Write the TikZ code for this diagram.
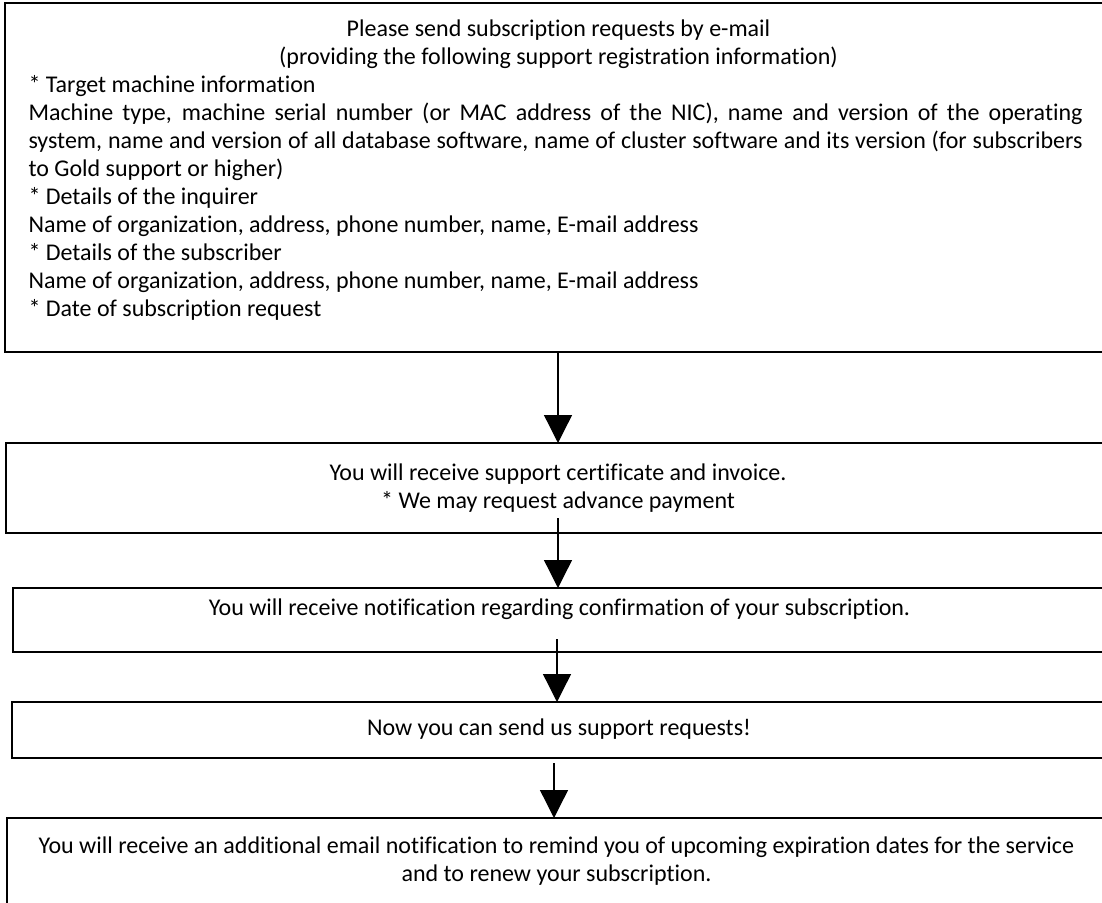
\documentclass[tikz,border=0pt]{standalone}
\usepackage{fontspec}
\setmainfont{Carlito}[Ligatures={NoCommon}]
\usetikzlibrary{arrows.meta}
\begin{document}
\begin{tikzpicture}[x=1pt,y=-1pt,
  box/.style={draw, line width=2.6pt, rectangle, anchor=north west, outer sep=0pt, inner sep=0pt,
    font=\fontsize{24}{28}\selectfont},
  arr/.style={line width=1.3pt, -{Triangle[width=28pt,length=28pt]}}]
\useasboundingbox (0,0) rectangle (1102,902);
\clip (0,0) rectangle (1102,902);
\fill[white] (0,0) rectangle (1102,902);

\node[box, minimum width=1101pt, minimum height=349pt] (b1) at (5,3) {\parbox{1054pt}{%
{\centering\hspace*{6pt}Please send subscription requests by e-mail\\
\hspace*{6pt}(providing the following support registration information)\par}
* Target machine information\par
Machine type, machine serial number (or MAC address of the NIC), name and version of the operating\linebreak
system, name and version of all database software, name of cluster software and its version (for subscribers\linebreak
to Gold support or higher)\par
* Details of the inquirer\par
Name of organization, address, phone number, name, E-mail address\par
* Details of the subscriber\par
Name of organization, address, phone number, name, E-mail address\par
* Date of subscription request\par\vspace{14pt}}};

\node[box, minimum width=1104pt, minimum height=90pt, align=center] (b2) at (6,443)
  {You will receive support certificate and invoice.\\* We may request advance payment};

\node[box, minimum width=1093pt, minimum height=64pt, text height=10pt, text depth=20pt] (b3) at (13,588)
  {You will receive notification regarding confirmation of your subscription.};

\node[box, minimum width=1094pt, minimum height=56pt, text height=15pt, text depth=5pt] (b4) at (12,702)
  {Now you can send us support requests!};

\node[box, minimum width=1099pt, minimum height=87pt, align=center] (b5) at (7,818)
  {You will receive an additional email notification to remind you of upcoming expiration dates for the service\\and to renew your subscription.};

\coordinate (x1) at (558,0);
\coordinate (x2) at (558,0);
\coordinate (x3) at (557,0);
\coordinate (x4) at (554,0);

\draw[arr] (b1.south -| x1) -- (b2.north -| x1);
\draw[arr] ([yshift=15pt]b2.south -| x2) -- (b3.north -| x2);
\draw[arr] ([yshift=13pt]b3.south -| x3) -- (b4.north -| x3);
\draw[arr] ([yshift=-5pt]b4.south -| x4) -- (b5.north -| x4);
\end{tikzpicture}
\end{document}
